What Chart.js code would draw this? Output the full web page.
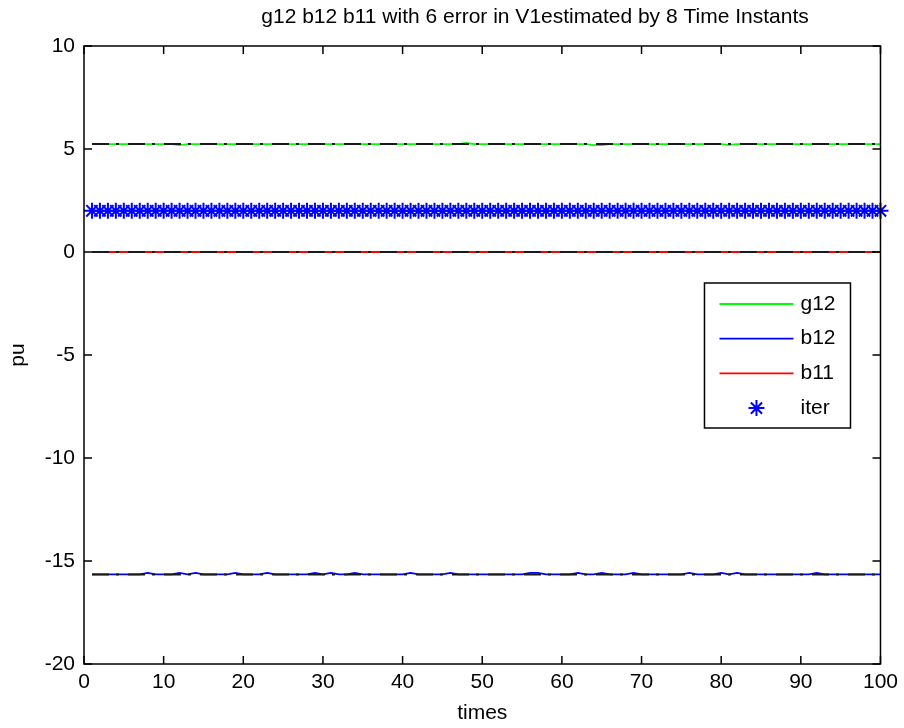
<!DOCTYPE html>
<html>
<head>
<meta charset="utf-8">
<title>g12 b12 b11 estimation</title>
<script src="https://cdn.jsdelivr.net/npm/chart.js@4.4.0/dist/chart.umd.min.js"></script>
<style>
  body { margin: 0; background: #fff; }
  #wrap { width: 904px; height: 728px; }
</style>
</head>
<body>
<div id="wrap"><canvas id="chart" width="904" height="728"></canvas></div>
<script>
const titleText = 'g12 b12 b11 with 6 error in V1estimated by 8 Time Instants';

// time instants
const times = [
  1, 2, 3, 4, 5, 6, 7, 8, 9, 10,
  11, 12, 13, 14, 15, 16, 17, 18, 19, 20,
  21, 22, 23, 24, 25, 26, 27, 28, 29, 30,
  31, 32, 33, 34, 35, 36, 37, 38, 39, 40,
  41, 42, 43, 44, 45, 46, 47, 48, 49, 50,
  51, 52, 53, 54, 55, 56, 57, 58, 59, 60,
  61, 62, 63, 64, 65, 66, 67, 68, 69, 70,
  71, 72, 73, 74, 75, 76, 77, 78, 79, 80,
  81, 82, 83, 84, 85, 86, 87, 88, 89, 90,
  91, 92, 93, 94, 95, 96, 97, 98, 99, 100
];

// estimated values
const g12 = [
  5.24, 5.24, 5.24, 5.24, 5.24, 5.24, 5.24, 5.24, 5.24, 5.24,
  5.24, 5.19, 5.24, 5.24, 5.24, 5.24, 5.24, 5.24, 5.24, 5.24,
  5.24, 5.24, 5.24, 5.24, 5.24, 5.24, 5.24, 5.24, 5.24, 5.24,
  5.24, 5.24, 5.24, 5.24, 5.24, 5.24, 5.24, 5.24, 5.24, 5.24,
  5.24, 5.24, 5.24, 5.24, 5.24, 5.24, 5.24, 5.29, 5.24, 5.24,
  5.24, 5.24, 5.24, 5.24, 5.24, 5.24, 5.24, 5.24, 5.24, 5.24,
  5.24, 5.24, 5.24, 5.19, 5.19, 5.24, 5.24, 5.24, 5.24, 5.24,
  5.24, 5.24, 5.24, 5.24, 5.24, 5.24, 5.24, 5.24, 5.24, 5.24,
  5.20, 5.24, 5.24, 5.24, 5.24, 5.24, 5.24, 5.24, 5.24, 5.24,
  5.24, 5.24, 5.24, 5.24, 5.24, 5.24, 5.24, 5.24, 5.24, 5.24
];
const b12 = [
  -15.65, -15.65, -15.65, -15.65, -15.65, -15.65, -15.65, -15.58, -15.65, -15.65,
  -15.65, -15.58, -15.65, -15.58, -15.65, -15.65, -15.65, -15.65, -15.58, -15.65,
  -15.65, -15.65, -15.58, -15.65, -15.65, -15.65, -15.65, -15.65, -15.58, -15.65,
  -15.58, -15.65, -15.65, -15.58, -15.65, -15.65, -15.65, -15.65, -15.65, -15.65,
  -15.58, -15.65, -15.65, -15.65, -15.65, -15.58, -15.65, -15.65, -15.65, -15.65,
  -15.65, -15.65, -15.65, -15.65, -15.65, -15.58, -15.58, -15.65, -15.65, -15.65,
  -15.65, -15.58, -15.65, -15.65, -15.58, -15.65, -15.65, -15.65, -15.58, -15.65,
  -15.65, -15.65, -15.65, -15.65, -15.65, -15.58, -15.65, -15.65, -15.65, -15.58,
  -15.65, -15.58, -15.65, -15.65, -15.65, -15.65, -15.65, -15.65, -15.65, -15.65,
  -15.65, -15.58, -15.65, -15.65, -15.65, -15.65, -15.65, -15.65, -15.65, -15.65
];
const b11 = [
  0, 0, 0, 0, 0, 0, 0, 0, 0, 0,
  0, 0, 0, 0, 0, 0, 0, 0, 0, 0,
  0, 0, 0, 0, 0, 0, 0, 0, 0, 0,
  0, 0, 0, 0, 0, 0, 0, 0, 0, 0,
  0, 0, 0, 0, 0, 0, 0, 0, 0, 0,
  0, 0, 0, 0, 0, 0, 0, 0, 0, 0,
  0, 0, 0, 0, 0, 0, 0, 0, 0, 0,
  0, 0, 0, 0, 0, 0, 0, 0, 0, 0,
  0, 0, 0, 0, 0, 0, 0, 0, 0, 0,
  0, 0, 0, 0, 0, 0, 0, 0, 0, 0
];
const iter = [
  2, 2, 2, 2, 2, 2, 2, 2, 2, 2,
  2, 2, 2, 2, 2, 2, 2, 2, 2, 2,
  2, 2, 2, 2, 2, 2, 2, 2, 2, 2,
  2, 2, 2, 2, 2, 2, 2, 2, 2, 2,
  2, 2, 2, 2, 2, 2, 2, 2, 2, 2,
  2, 2, 2, 2, 2, 2, 2, 2, 2, 2,
  2, 2, 2, 2, 2, 2, 2, 2, 2, 2,
  2, 2, 2, 2, 2, 2, 2, 2, 2, 2,
  2, 2, 2, 2, 2, 2, 2, 2, 2, 2,
  2, 2, 2, 2, 2, 2, 2, 2, 2, 2
];

// true values (black dash-dot reference lines)
const refTimes = [1, 100];
const refG12 = [5.24, 5.24];
const refB12 = [-15.65, -15.65];
const refB11 = [0, 0];

const xTicks = [0, 10, 20, 30, 40, 50, 60, 70, 80, 90, 100];
const yTicks = [-20, -15, -10, -5, 0, 5, 10];

const FONT = "'Liberation Sans', Arial, sans-serif";
const FS = 21;

function pts(xs, ys) {
  return xs.map((x, i) => ({ x: x, y: ys[i] }));
}

function refLine(ys) {
  return {
    label: 'ref', data: pts(refTimes, ys), borderColor: '#1a1a1a', borderWidth: 2,
    borderDash: [17, 7, 3, 9], pointRadius: 0, showLine: true, order: 0, inLegend: false
  };
}

// draws a MATLAB style '*' marker
function drawStar(ctx, x, y, r) {
  const q = r * 0.7;
  ctx.beginPath();
  ctx.moveTo(x - r, y); ctx.lineTo(x + r, y);
  ctx.moveTo(x, y - r); ctx.lineTo(x, y + r);
  ctx.moveTo(x - q, y - q); ctx.lineTo(x + q, y + q);
  ctx.moveTo(x - q, y + q); ctx.lineTo(x + q, y - q);
  ctx.stroke();
}

// frame, inward ticks, title and legend, drawn like a MATLAB axes
const matlabAxes = {
  id: 'matlabAxes',
  afterDraw(chart) {
    const { ctx, chartArea: a, scales } = chart;
    ctx.save();
    ctx.strokeStyle = '#000';
    ctx.lineWidth = 1.5;
    ctx.strokeRect(a.left, a.top, a.right - a.left, a.bottom - a.top);
    const tl = 8;
    ctx.beginPath();
    xTicks.forEach(v => {
      const px = scales.x.getPixelForValue(v);
      ctx.moveTo(px, a.bottom); ctx.lineTo(px, a.bottom - tl);
      ctx.moveTo(px, a.top); ctx.lineTo(px, a.top + tl);
    });
    yTicks.forEach(v => {
      const py = scales.y.getPixelForValue(v);
      ctx.moveTo(a.left, py); ctx.lineTo(a.left + tl, py);
      ctx.moveTo(a.right, py); ctx.lineTo(a.right - tl, py);
    });
    ctx.stroke();

    // title
    ctx.fillStyle = '#000';
    ctx.font = FS + 'px ' + FONT;
    ctx.textAlign = 'center';
    ctx.textBaseline = 'middle';
    ctx.fillText(titleText, 535, 17);

    // legend box
    const bx = a.right - 176, by = a.top + 237, bw = 146, bh = 145;
    ctx.fillStyle = '#fff';
    ctx.fillRect(bx, by, bw, bh);
    ctx.lineWidth = 1.5;
    ctx.strokeStyle = '#000';
    ctx.strokeRect(bx, by, bw, bh);
    const items = chart.data.datasets.filter(d => d.inLegend !== false);
    items.forEach((d, i) => {
      const cy = by + 21 + i * 34.7;
      ctx.strokeStyle = d.borderColor;
      if (d.showLine === false) {
        ctx.lineWidth = 2;
        drawStar(ctx, bx + 52, cy, 8);
      } else {
        ctx.lineWidth = 1.8;
        ctx.beginPath();
        ctx.moveTo(bx + 15, cy); ctx.lineTo(bx + 89, cy);
        ctx.stroke();
      }
      ctx.fillStyle = '#000';
      ctx.textAlign = 'left';
      ctx.fillText(d.label, bx + 96, cy);
    });
    ctx.restore();
  }
};

Chart.defaults.font.family = FONT;
Chart.defaults.font.size = FS;
Chart.defaults.color = '#000';

new Chart(document.getElementById('chart'), {
  type: 'scatter',
  data: {
    datasets: [
      refLine(refG12),
      refLine(refB12),
      refLine(refB11),
      { label: 'g12', data: pts(times, g12), borderColor: '#00ff00', borderWidth: 1.8,
        showLine: true, pointRadius: 0, order: 1 },
      { label: 'b12', data: pts(times, b12), borderColor: '#0000ff', borderWidth: 1.8,
        showLine: true, pointRadius: 0, order: 1 },
      { label: 'b11', data: pts(times, b11), borderColor: '#ff0000', borderWidth: 1.8,
        showLine: true, pointRadius: 0, order: 1 },
      { label: 'iter', data: pts(times, iter), borderColor: '#0000ff', backgroundColor: '#0000ff',
        showLine: false, pointStyle: 'star', pointRadius: 8, pointBorderWidth: 2,
        clip: false, order: 2 }
    ]
  },
  options: {
    responsive: false,
    animation: false,
    layout: { padding: { top: 46, right: 22, left: 0, bottom: 0 } },
    plugins: {
      legend: { display: false },
      title: { display: false },
      tooltip: { enabled: false }
    },
    scales: {
      x: {
        type: 'linear', min: 0, max: 100,
        grid: { display: false, drawTicks: false },
        border: { display: false },
        ticks: { stepSize: 10, padding: 6 },
        title: { display: true, text: 'times', padding: { top: 0, bottom: 2 } },
        afterFit(s) { s.height = 64; }
      },
      y: {
        min: -20, max: 10,
        grid: { display: false, drawTicks: false },
        border: { display: false },
        ticks: { stepSize: 5, padding: 9 },
        title: { display: true, text: 'pu', padding: { top: 6, bottom: 0 } },
        afterFit(s) { s.width = 84; }
      }
    }
  },
  plugins: [matlabAxes]
});
</script>
</body>
</html>
